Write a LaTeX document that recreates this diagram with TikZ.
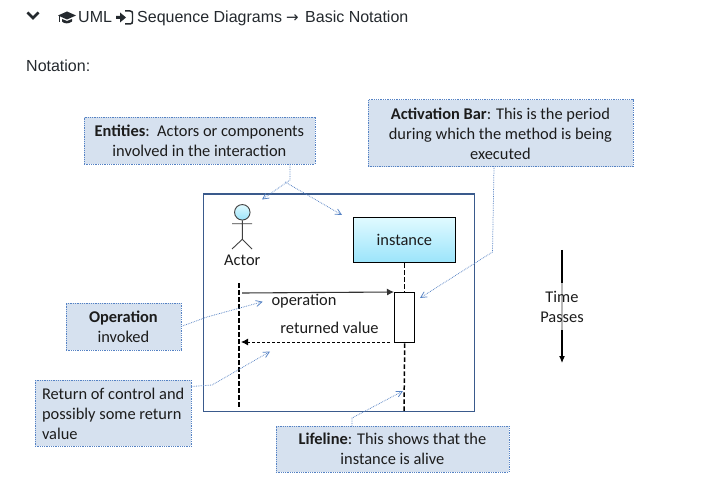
\documentclass[tikz,border=0pt]{standalone}
\usepackage{fontspec}
\setmainfont{Carlito}
\newfontfamily\uifont{Liberation Sans}
\usetikzlibrary{arrows.meta}
\definecolor{boxfill}{HTML}{D6E1EF}
\definecolor{boxline}{HTML}{5582C4}
\definecolor{frameline}{HTML}{3A5A8C}
\definecolor{uitext}{HTML}{24292E}
\definecolor{difftext}{HTML}{1C1C1C}
\definecolor{gradtop}{HTML}{E0FAFF}
\definecolor{gradbot}{HTML}{9BE4FB}
\tikzset{
  callout/.style={draw=boxline,densely dotted,line width=0.8pt,fill=boxfill,align=center,inner sep=0pt,font=\fontsize{16.4bp}{20bp}\selectfont,text=difftext},
  pointer/.style={draw=boxline,densely dotted,line width=0.75pt},
  pointertip/.style={pointer,-{Straight Barb[length=6bp,width=6bp]}},
  lifeln/.style={draw=black,dash pattern=on 4.5bp off 2.5bp,line width=1.5pt},
  msg/.style={draw=black!80,line width=1.1pt,-{Latex[length=7bp,width=7bp]}},
  retmsg/.style={draw=black,line width=1pt,dash pattern=on 3bp off 2bp,-{Latex[length=7bp,width=7bp]}},
  difflabel/.style={font=\fontsize{16.4bp}{20bp}\selectfont,text=difftext,inner sep=0pt},
  uilabel/.style={font=\uifont\fontsize{16bp}{18bp}\selectfont,text=uitext,inner sep=0pt,anchor=base west},
}
\begin{document}
\begin{tikzpicture}[x=1bp,y=-1bp]
\useasboundingbox (0,0) rectangle (705,481);
\fill[white] (0,0) rectangle (705,481);

% header line
\draw[uitext,line width=2.6pt,line cap=butt,line join=miter] (27.5,12.5) -- (33,18) -- (38.5,12.5);
% cap icon
\fill[uitext] (58,15.5) -- (67,11.5) -- (76,15.5) -- (67,19.5) -- cycle;
\fill[uitext] (62,19) -- (67,21) -- (72,19) -- (72,21.5) .. controls (69,24) and (64,24) .. (62,21.5) -- cycle;
\draw[uitext,line width=0.8pt] (59,16) -- (59,22);
\node[uilabel] (uml) at (78,23) {UML};
% sign-in icon
\fill[uitext] (116,16) -- (120,16) -- (120,12.5) -- (126,17.5) -- (120,22.5) -- (120,19) -- (116,19) -- cycle;
\draw[uitext,line width=1.5pt] (125,11) -- (130,11) .. controls (132,11) and (132.5,12) .. (132.5,13.5) -- (132.5,21) .. controls (132.5,23) and (132,24) .. (130,24) -- (125,24);
\node[uilabel] (crumb) at (137,23) {Sequence Diagrams};
\node[uilabel,font=\fontspec{DejaVu Sans}\fontsize{15bp}{18bp}\selectfont] (crumbarrow) at (286,22.5) {→};
\node[uilabel] (crumbend) at (305,23) {Basic Notation};
\node[uilabel] (notation) at (26,72) {Notation:};

% frame
\node[draw=frameline,line width=1.3pt,minimum width=271bp,minimum height=217.5bp,inner sep=0pt,anchor=north west] (frame) at (202.5,193.5) {};

% actor
\node[circle,draw=black!75,line width=0.9pt,top color=gradtop,bottom color=gradbot,minimum size=15.5bp,inner sep=0pt] (head) at (242.3,212.3) {};
\coordinate (hip) at (242.3,239.3);
\coordinate (armL) at (232,223.7);
\coordinate (armR) at (252,223.7);
\coordinate (legL) at (232,249);
\coordinate (legR) at (252,249);
\draw[black!75,line width=0.9pt] (head.south) -- (hip) (armL) -- (armR) (legL) -- (hip) -- (legR);
\node[difflabel,anchor=base] (actorlabel) at (242.3,266) {Actor};

% instance
\node[draw=black,line width=1.3pt,top color=gradtop,bottom color=gradbot,minimum width=101.5bp,minimum height=45bp,anchor=north west,difflabel] (inst) at (353,217) {instance};

% lifelines
\coordinate (actTop) at (239,283);
\coordinate (actBot) at (239,409);
\coordinate (instBot) at (404,411);
\node[draw=black,line width=1.4pt,fill=white,minimum width=20bp,minimum height=50bp,inner sep=0pt,anchor=north west] (bar) at (394,292) {};
\draw[lifeln] (actTop) -- (actBot);
\draw[lifeln] (bar.north |- inst.south) -- (bar.north);
\draw[lifeln] (bar.south) -- (instBot);

% messages
\coordinate (opStart) at (242,293);
\coordinate (retEnd) at (241,342);
\coordinate (retStart) at (390,342);
\draw[msg] (opStart) -- (bar.north west);
\draw[retmsg] (retStart) -- (retEnd);
\node[difflabel,anchor=base] (oplabel) at (304,305) {operation};
\node[difflabel,anchor=base] (retlabel) at (329.5,333) {returned value};

% callouts
\node[callout,minimum width=231bp,minimum height=47bp,anchor=north west] (entities) at (83.5,117) {\textbf{Entities}:\ \ Actors or components\\involved in the interaction};
\node[callout,minimum width=265bp,minimum height=67bp,anchor=north west] (activation) at (367.5,99.5) {\textbf{Activation Bar}: This is the period\\during which the method is being\\executed};
\node[callout,minimum width=115bp,minimum height=47bp,anchor=north west] (operation) at (65.5,302.5) {\textbf{Operation}\\invoked};
\node[callout,minimum width=156.5bp,minimum height=66bp,anchor=north west,align=left] (returnbox) at (34.5,380) {Return of control and\\possibly some return\\value};
\node[callout,minimum width=233bp,minimum height=46bp,anchor=north west] (lifeline) at (275.5,425.5) {\textbf{Lifeline}: This shows that the\\instance is alive};

% pointers
\coordinate (entBend) at (290,180);
\coordinate (entStart) at (290,164);
\coordinate (entJoin) at (285,182);
\coordinate (entTipA) at (262,199.5);
\coordinate (entTipB) at (342,215);
\coordinate (actStart) at (494,166.5);
\coordinate (actBend) at (492.5,252);
\coordinate (actTip) at (420,298);
\coordinate (opBend) at (207,317);
\coordinate (opTip) at (262.7,301.7);
\coordinate (retStart2) at (191,386.5);
\coordinate (retBend) at (212,385);
\coordinate (retTip) at (270,351.5);
\coordinate (lifeStart) at (352,425.5);
\coordinate (lifeBend) at (352,418);
\coordinate (lifeTip) at (403,391);
\draw[pointertip] (entStart) -- (entBend) -- (entTipA);
\draw[pointertip] (entJoin) -- (entTipB);
\draw[pointertip] (actStart) -- (actBend) -- (actTip);
\draw[pointertip] (operation.east) -- (opBend) -- (opTip);
\draw[pointertip] (retStart2) -- (retBend) -- (retTip);
\draw[pointertip] (lifeStart) -- (lifeBend) -- (lifeTip);

% time
\coordinate (timeTop) at (562,250);
\coordinate (timeBot) at (562,363);
\draw[black,line width=1.1pt,-{Latex[length=7bp,width=6bp]}] (timeTop) -- (timeBot);
\node[fill=white,fill opacity=0.72,text opacity=1,align=center,inner sep=0pt,minimum width=90bp,minimum height=47bp,font=\fontsize{16.4bp}{20bp}\selectfont,text=difftext] (time) at (562,306.5) {Time\\Passes};
\end{tikzpicture}
\end{document}
